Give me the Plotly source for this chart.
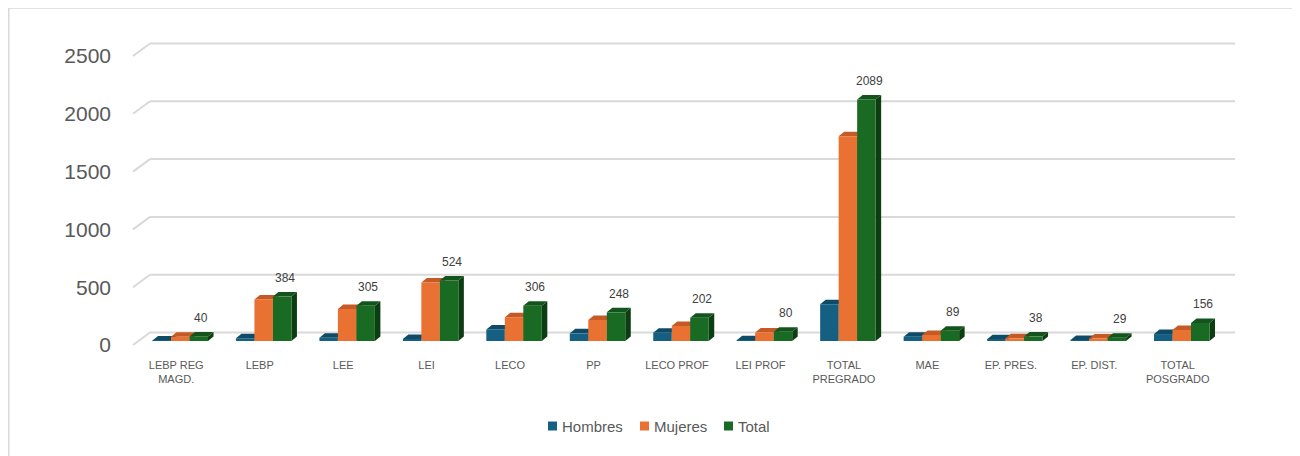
import plotly.graph_objects as go

categories = ["LEBP REG<br>MAGD.", "LEBP", "LEE", "LEI", "LECO", "PP", "LECO PROF",
              "LEI PROF", "TOTAL<br>PREGRADO", "MAE", "EP. PRES.", "EP. DIST.", "TOTAL<br>POSGRADO"]
hombres = [4, 24, 28, 18, 100, 66, 72, 6, 318, 37, 15, 8, 60]
mujeres = [36, 360, 277, 506, 206, 182, 130, 74, 1771, 52, 23, 21, 96]
total = [40, 384, 305, 524, 306, 248, 202, 80, 2089, 89, 38, 29, 156]
y_ticks = [0, 500, 1000, 1500, 2000, 2500]

series = [("Hombres", hombres, "#156082", "#0f4a66", "#0b3a50"),
          ("Mujeres", mujeres, "#E97132", "#c55a26", "#a84e20"),
          ("Total", total, "#196B24", "#13541c", "#0d3d12")]

# page body has an 8px margin: convert screenshot pixels to figure pixels
OFF = 8
W, H = 1300, 456
l_px, r_px = 132 - OFF, 1237 - OFF
t_px, b_px = 30 - OFF, 350 - OFF
cat_px = 83.46          # pixels per category
bar_left_px = 138.5 - OFF
zero_px = 341 - OFF
ypx = 0.1156            # pixels per unit

x0r = -0.5 - (bar_left_px - l_px) / cat_px
x1r = -0.5 + (r_px - bar_left_px) / cat_px
y0r = -(b_px - zero_px) / ypx
y1r = (zero_px - t_px) / ypx

bw = 18.5 / cat_px
ddx = 5.5 / cat_px
ddy = 4.5 / ypx
wall_dx = 11.5 / cat_px
wall_dy = 8.5 / ypx
floor_dx = 5.5 / cat_px
floor_dy = 4.0 / ypx

pw, ph = r_px - l_px, b_px - t_px
def px_x(x):  # screenshot px -> paper
    return (x - OFF - l_px) / pw
def px_y(y):
    return (b_px - (y - OFF)) / ph

n = len(categories)
fig = go.Figure()
shapes = []
grid_col = "#d9d9d9"
for v in y_ticks:
    shapes.append(dict(type="line", xref="x", yref="y", layer="below",
                       x0=-0.5 + wall_dx, x1=n - 0.5 + wall_dx, y0=v + wall_dy, y1=v + wall_dy,
                       line=dict(color=grid_col, width=2)))
    shapes.append(dict(type="line", xref="x", yref="y", layer="below",
                       x0=-0.5 - floor_dx, x1=-0.5 + wall_dx, y0=v - floor_dy, y1=v + wall_dy,
                       line=dict(color=grid_col, width=2)))

for i in range(n):
    for k, (name, vals, fc, tc, sc) in enumerate(series):
        xc = i + (k - 1) * bw
        xl, xr = xc - bw / 2, xc + bw / 2
        v = vals[i]
        side = f"M {xr} 0 L {xr + ddx} {ddy} L {xr + ddx} {v + ddy} L {xr} {v} Z"
        top = f"M {xl} {v} L {xr} {v} L {xr + ddx} {v + ddy} L {xl + ddx} {v + ddy} Z"
        shapes.append(dict(type="path", xref="x", yref="y", layer="below", path=side,
                           fillcolor=sc, line=dict(width=0)))
        shapes.append(dict(type="path", xref="x", yref="y", layer="below", path=top,
                           fillcolor=tc, line=dict(width=0)))

for k, (name, vals, fc, tc, sc) in enumerate(series):
    fig.add_trace(go.Bar(name=name, x=[i + (k - 1) * bw for i in range(n)], y=vals,
                         width=bw, marker=dict(color=fc, line=dict(width=0)),
                         showlegend=False))

annotations = []
for i in range(n):
    annotations.append(dict(x=i + bw + ddx / 2, y=total[i] + ddy, xref="x", yref="y",
                            text=str(total[i]), showarrow=False, yanchor="middle",
                            yshift=14, font=dict(size=12, color="#404040")))

# custom legend (square swatches + text)
legend_pos = [548, 640, 724]
for (name, vals, fc, tc, sc), lx in zip(series, legend_pos):
    shapes.append(dict(type="rect", xref="paper", yref="paper", layer="above",
                       x0=px_x(lx), x1=px_x(lx + 9), y0=px_y(430.5), y1=px_y(421.5),
                       fillcolor=fc, line=dict(width=0)))
    annotations.append(dict(x=px_x(lx + 12), y=px_y(426), xref="paper", yref="paper",
                            text=name, showarrow=False, xanchor="left", yanchor="middle",
                            font=dict(size=15, color="#595959")))

# outer border
shapes.append(dict(type="rect", xref="paper", yref="paper", layer="above",
                   x0=px_x(8.75), x1=px_x(1320), y0=px_y(480), y1=px_y(8),
                   line=dict(color="#d9d9d9", width=1.5), fillcolor="rgba(0,0,0,0)"))

fig.update_layout(
    width=W, height=H,
    margin=dict(l=l_px, r=W - r_px, t=t_px, b=H - b_px, pad=0),
    paper_bgcolor="white", plot_bgcolor="white",
    barmode="overlay",
    font=dict(family="Liberation Sans, Arial, sans-serif", color="#595959"),
    shapes=shapes, annotations=annotations,
    showlegend=False,
    xaxis=dict(range=[x0r, x1r], tickvals=list(range(n)), ticktext=categories,
               showgrid=False, zeroline=False, showline=False, ticks="",
               tickfont=dict(size=11, color="#595959"), ticklabelshift=-4,
               ticklabelstandoff=7, automargin=False),
    yaxis=dict(range=[y0r, y1r], tickvals=y_ticks, showgrid=False, zeroline=False,
               showline=False, ticks="", tickfont=dict(size=21, color="#595959"),
               ticklabelshift=4, ticklabelstandoff=20, automargin=False),
)

fig.write_html("out.html")
